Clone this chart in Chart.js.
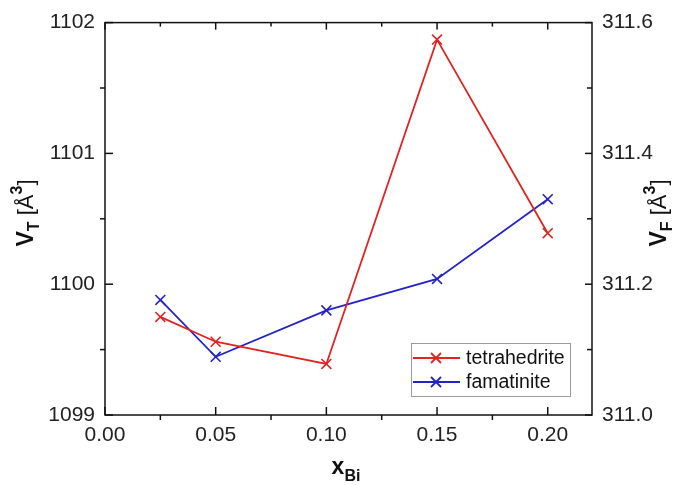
<!DOCTYPE html>
<html lang="en">
<head>
  <meta charset="utf-8"/>
  <title>V vs x_Bi</title>
  <script src="https://cdn.jsdelivr.net/npm/chart.js@4.4.1/dist/chart.umd.min.js"></script>
  <style>
    html, body { margin: 0; padding: 0; background: #fff; }
    #wrap { width: 674px; height: 485px; }
  </style>
</head>
<body>
<div id="wrap"><canvas id="chart" width="674" height="485"></canvas></div>
<script>
  // data
  var xBi = [0.025, 0.05, 0.10, 0.15, 0.20];
  var vT = [1099.75, 1099.56, 1099.39, 1101.87, 1100.39];   // left axis
  var vF = [311.176, 311.089, 311.160, 311.208, 311.330];   // right axis

  var xTicks = [0, 0.05, 0.10, 0.15, 0.20];
  var xMinor = [0.025, 0.075, 0.125, 0.175];
  var leftTicks = [1099, 1100, 1101, 1102];
  var leftMinor = [1099.5, 1100.5, 1101.5];
  var rightTicks = [311.0, 311.2, 311.4, 311.6];
  var rightMinor = [311.1, 311.3, 311.5];

  var seriesNames = ['tetrahedrite', 'famatinite'];
  var RED = '#e02424';
  var BLUE = '#2323c8';
  var FONT = '"Liberation Sans", Arial, sans-serif';

  function pts(xs, ys) {
    return xs.map(function (x, i) { return { x: x, y: ys[i] }; });
  }
  function fixTicks(list) {
    return function (scale) { scale.ticks = list.map(function (v) { return { value: v }; }); };
  }

  // axis frame, in/out ticks, titles with sub/superscripts, legend box
  var decor = {
    id: 'decor',
    afterDraw: function (chart) {
      var ctx = chart.ctx, a = chart.chartArea;
      var sx = chart.scales.x, yl = chart.scales.y, yr = chart.scales.y2;
      ctx.save();
      ctx.strokeStyle = '#111';
      ctx.lineWidth = 1.5;
      ctx.strokeRect(a.left, a.top, a.right - a.left, a.bottom - a.top);

      function line(x1, y1, x2, y2) {
        ctx.beginPath(); ctx.moveTo(x1, y1); ctx.lineTo(x2, y2); ctx.stroke();
      }
      xTicks.forEach(function (v) {
        var p = sx.getPixelForValue(v);
        line(p, a.bottom, p, a.bottom - 8);
        line(p, a.top, p, a.top + 7);
      });
      xMinor.forEach(function (v) {
        var p = sx.getPixelForValue(v);
        line(p, a.bottom, p, a.bottom + 5);
        line(p, a.top, p, a.top + 4);
      });
      leftTicks.forEach(function (v) {
        var p = yl.getPixelForValue(v);
        line(a.left, p, a.left + 8, p);
      });
      leftMinor.forEach(function (v) {
        var p = yl.getPixelForValue(v);
        line(a.left, p, a.left - 5, p);
      });
      rightTicks.forEach(function (v) {
        var p = yr.getPixelForValue(v);
        line(a.right, p, a.right - 7, p);
      });
      rightMinor.forEach(function (v) {
        var p = yr.getPixelForValue(v);
        line(a.right, p, a.right - 5, p);
      });

      // titles
      ctx.fillStyle = '#111';
      ctx.textBaseline = 'alphabetic';
      function runs(parts, x, y, rotate) {
        ctx.save();
        ctx.translate(x, y);
        if (rotate) ctx.rotate(-Math.PI / 2);
        var total = 0;
        parts.forEach(function (p) { ctx.font = p.f; total += ctx.measureText(p.t).width; });
        var cx = -total / 2;
        parts.forEach(function (p) {
          ctx.font = p.f;
          ctx.fillText(p.t, cx, p.dy);
          cx += ctx.measureText(p.t).width;
        });
        ctx.restore();
      }
      var big = 'bold 23px ' + FONT, sub = 'bold 16px ' + FONT, reg = '22px ' + FONT, sup = 'bold 16px ' + FONT;
      runs([{ t: 'V', f: big, dy: 0 }, { t: 'T', f: sub, dy: 6 }, { t: ' [Å', f: reg, dy: 0 },
            { t: '3', f: sup, dy: -11 }, { t: ']', f: reg, dy: 0 }], 33, 213, true);
      runs([{ t: 'V', f: big, dy: 0 }, { t: 'F', f: sub, dy: 6 }, { t: ' [Å', f: reg, dy: 0 },
            { t: '3', f: sup, dy: -11 }, { t: ']', f: reg, dy: 0 }], 666, 213, true);
      runs([{ t: 'x', f: big, dy: 0 }, { t: 'Bi', f: sub, dy: 7 }], 346, 474, false);

      // legend
      ctx.lineWidth = 1;
      ctx.strokeStyle = '#9a9a9a';
      ctx.strokeRect(411.5, 343.5, 159, 53);
      var rows = [358, 382];
      chart.data.datasets.forEach(function (ds, i) {
        var y = rows[i];
        ctx.strokeStyle = ds.borderColor;
        ctx.lineWidth = 1.8;
        line(413, y, 460, y);
        var r = 5;
        line(436 - r, y - r, 436 + r, y + r);
        line(436 - r, y + r, 436 + r, y - r);
        ctx.fillStyle = '#111';
        ctx.font = '19.5px ' + FONT;
        ctx.textBaseline = 'middle';
        ctx.fillText(ds.label, 466, y + 1);
      });
      ctx.restore();
    }
  };

  new Chart(document.getElementById('chart'), {
    type: 'scatter',
    data: {
      datasets: [{
        label: seriesNames[0],
        data: pts(xBi, vT),
        yAxisID: 'y',
        showLine: true,
        borderColor: RED,
        backgroundColor: RED,
        borderWidth: 1.8,
        pointStyle: 'crossRot',
        pointRadius: 7,
        pointBorderWidth: 1.6
      }, {
        label: seriesNames[1],
        data: pts(xBi, vF),
        yAxisID: 'y2',
        showLine: true,
        borderColor: BLUE,
        backgroundColor: BLUE,
        borderWidth: 1.8,
        pointStyle: 'crossRot',
        pointRadius: 7,
        pointBorderWidth: 1.6
      }]
    },
    options: {
      responsive: false,
      animation: false,
      devicePixelRatio: 1,
      layout: { padding: { top: 21, left: 0, right: 0, bottom: 0 } },
      plugins: { legend: { display: false }, tooltip: { enabled: false } },
      scales: {
        x: {
          type: 'linear', min: 0, max: 0.22,
          afterBuildTicks: fixTicks(xTicks),
          afterFit: function (s) { s.height = 70; },
          grid: { display: false, drawTicks: false },
          border: { display: false },
          ticks: {
            padding: 8, color: '#222', font: { family: FONT, size: 21 },
            callback: function (v) { return Number(v).toFixed(2); }
          }
        },
        y: {
          type: 'linear', position: 'left', min: 1099, max: 1102,
          afterBuildTicks: fixTicks(leftTicks),
          afterFit: function (s) { s.width = 105; },
          grid: { display: false, drawTicks: false },
          border: { display: false },
          ticks: {
            padding: 10, color: '#222', font: { family: FONT, size: 21 },
            callback: function (v) { return String(v); }
          }
        },
        y2: {
          type: 'linear', position: 'right', min: 311.0, max: 311.6,
          afterBuildTicks: fixTicks(rightTicks),
          afterFit: function (s) { s.width = 82; },
          grid: { display: false, drawTicks: false },
          border: { display: false },
          ticks: {
            padding: 10, color: '#222', font: { family: FONT, size: 21 },
            callback: function (v) { return Number(v).toFixed(1); }
          }
        }
      }
    },
    plugins: [decor]
  });
</script>
</body>
</html>
